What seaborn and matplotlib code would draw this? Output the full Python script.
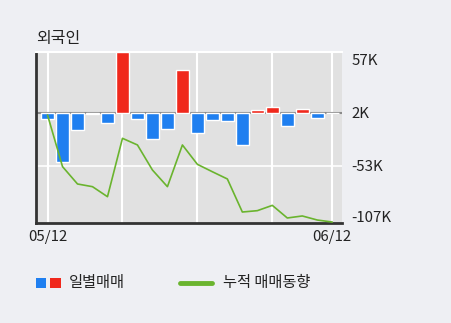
import numpy as np
import pandas as pd
import seaborn as sns
import matplotlib
matplotlib.use("Agg")
import matplotlib.pyplot as plt
from matplotlib.patches import Rectangle
from matplotlib.lines import Line2D

# ---- data (thousands of shares, relative to the zero line) ----
daily = [-6.6, -50.9, -17.6, -1.0, -10.4, 63.0, -6.6, -27.0, -17.0, 44.3,
         -21.0, -7.6, -8.3, -33.2, 2.6, 6.2, -13.5, 4.2, -5.5, 0.0]
cumulative = [-2.4, -56.0, -74.0, -76.8, -87.2, -26.6, -33.5, -59.5, -76.8, -33.5,
              -53.6, -61.3, -68.8, -103.1, -101.7, -96.2, -109.3, -107.2, -111.4, -113.5]
tick_pos = [55, 0, -55, -108]
tick_labels = ["57K", "2K", "-53K", "-107K"]
date_labels = ["05/12", "06/12"]
title = "외국인"
legend_labels = ["일별매매", "누적 매매동향"]

BLUE = "#1f7ff0"
RED = "#f0281c"
GREEN = "#6ab42e"
FIG_BG = "#eeeff3"
AX_BG = "#e1e1e1"

sns.set_theme(style="white")
plt.rcParams['font.family'] = ['Noto Sans CJK KR', 'DejaVu Sans']

fig = plt.figure(figsize=(4.51, 3.23), dpi=100, facecolor=FIG_BG)
ax = fig.add_axes([36/451, 1-223/323, (342-36)/451, (223-52)/323])
ax.set_facecolor(AX_BG)

n = len(daily)
df = pd.DataFrame({"i": list(range(n)), "v": daily})
colors = [RED if v > 0 else BLUE for v in daily]
sns.barplot(data=df, x="i", y="v", hue="i", palette=colors, legend=False,
            width=0.87, ax=ax, saturation=1, zorder=3)

# vertical grid lines
for gx in [0, 5, 10, 15, 19]:
    ax.axvline(gx, color="white", lw=1.5, zorder=1)
ax.axhline(-55, color="white", lw=1.2, zorder=1)
ax.axhline(0, color="#8a8a8a", lw=1.5, zorder=2.5)

dl = pd.DataFrame({"i": list(range(n)), "c": cumulative})
sns.lineplot(data=dl, x="i", y="c", color=GREEN, lw=1.2, ax=ax, zorder=5)

ax.set_xlim(-0.77, 19.65)
ax.set_ylim(-114.5, 63)
ax.set_xlabel("")
ax.set_ylabel("")
ax.set_xticks([0, 19])
ax.set_xticklabels(date_labels, fontsize=10.8, color="#222222")
ax.yaxis.tick_right()
ax.set_yticks(tick_pos)
ax.set_yticklabels(tick_labels, fontsize=10.8, color="#222222")
ax.tick_params(axis="both", length=0)
ax.tick_params(axis="y", pad=7)
ax.tick_params(axis="x", pad=5)

for s in ["left", "bottom"]:
    ax.spines[s].set_color("#333333")
    ax.spines[s].set_linewidth(2)
ax.spines["top"].set_color("white")
ax.spines["top"].set_linewidth(1.5)
ax.spines["right"].set_visible(False)

fig.text(36/451, 1-38/323, title, fontsize=11.5, color="#222222", va="center", ha="left")

# legend
ly = 1-288/323
fig.patches.append(Rectangle((36/451, ly), 10/451, 10/323, transform=fig.transFigure,
                             facecolor=BLUE, edgecolor="none"))
fig.patches.append(Rectangle((50/451, ly), 11/451, 10/323, transform=fig.transFigure,
                             facecolor=RED, edgecolor="none"))
fig.text(69/451, 1-283/323, legend_labels[0], fontsize=11, color="#222222", va="center", ha="left")
fig.lines.append(Line2D([180/451, 212/451], [1-283/323, 1-283/323], transform=fig.transFigure,
                        color=GREEN, lw=3.5))
fig.text(223/451, 1-283/323, legend_labels[1], fontsize=11, color="#222222", va="center", ha="left")

fig.savefig("out.png", dpi=100, facecolor=FIG_BG)
